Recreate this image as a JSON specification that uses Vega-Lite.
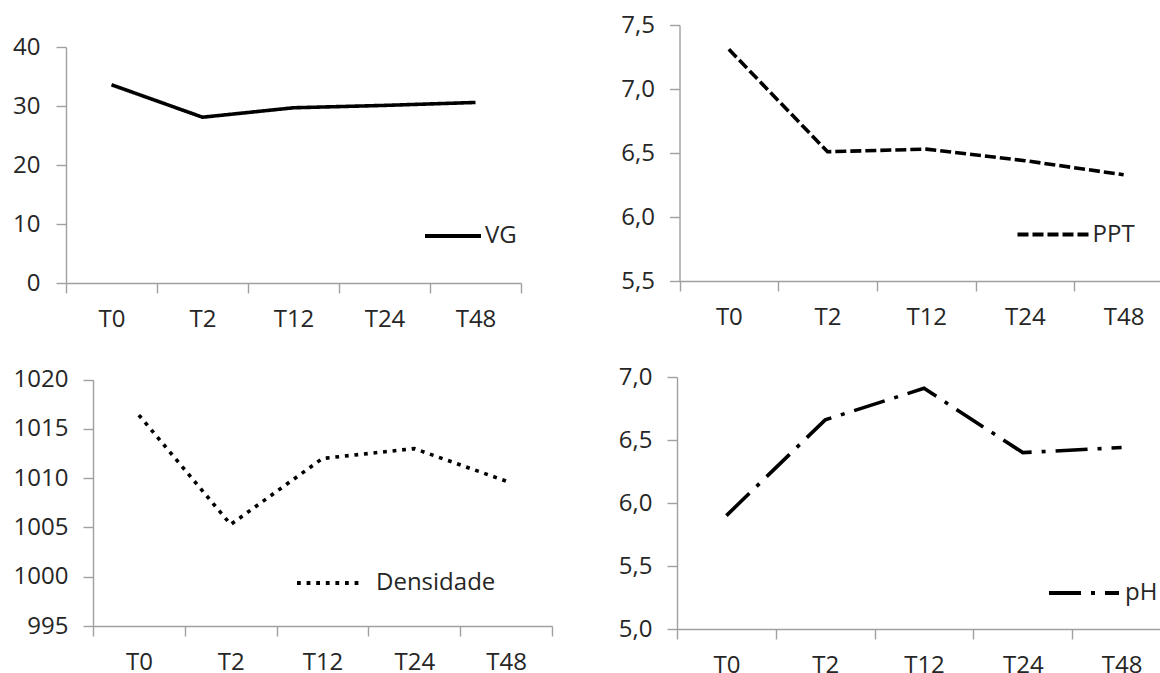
{
  "$schema": "https://vega.github.io/schema/vega-lite/v6.json",
  "padding": {"top": 13, "left": 12, "right": 0, "bottom": 0},
  "background": "white",
  "columns": 2,
  "align": "each",
  "spacing": {"row": 34, "column": 65},
  "resolve": {"scale": {"strokeDash": "independent"}, "legend": {"strokeDash": "independent"}},
  "concat": [
    {
      "width": 455,
      "height": 258,
      "data": {"values": [
        {"t": "T0", "serie": "VG", "v": 33.6},
        {"t": "T2", "serie": "VG", "v": 28.1},
        {"t": "T12", "serie": "VG", "v": 29.7},
        {"t": "T24", "serie": "VG", "v": 30.1},
        {"t": "T48", "serie": "VG", "v": 30.6}
      ]},
      "mark": {"type": "line", "color": "black", "strokeWidth": 3.6},
      "encoding": {
        "x": {"field": "t", "type": "ordinal", "sort": ["T0", "T2", "T12", "T24", "T48"], "title": null,
              "scale": {"type": "band", "paddingInner": 0, "paddingOuter": 0}},
        "y": {"field": "v", "type": "quantitative", "title": null,
              "scale": {"domain": [0, 40], "nice": false, "range": [258, 22]},
              "axis": {"values": [0, 10, 20, 30, 40], "labelPadding": 16}},
        "strokeDash": {"field": "serie", "type": "nominal", "scale": {"range": [[1, 0]]},
          "legend": {"orient": "none", "legendX": 357, "legendY": 181, "title": null, "symbolType": "stroke",
                     "symbolSize": 3136, "symbolStrokeWidth": 4, "symbolStrokeColor": "black",
                     "labelOffset": 2, "padding": 0}}
      }
    },
    {
      "width": 496,
      "height": 256,
      "data": {"values": [
        {"t": "T0", "serie": "PPT", "v": 7.31},
        {"t": "T2", "serie": "PPT", "v": 6.51},
        {"t": "T12", "serie": "PPT", "v": 6.53},
        {"t": "T24", "serie": "PPT", "v": 6.44},
        {"t": "T48", "serie": "PPT", "v": 6.33}
      ]},
      "mark": {"type": "line", "color": "black", "strokeWidth": 3.6},
      "encoding": {
        "x": {"field": "t", "type": "ordinal", "sort": ["T0", "T2", "T12", "T24", "T48"], "title": null,
              "scale": {"type": "band", "paddingInner": 0, "paddingOuter": 0, "range": [2.5, 496]}},
        "y": {"field": "v", "type": "quantitative", "title": null,
              "scale": {"domain": [5.5, 7.5], "nice": false, "zero": false},
              "axis": {"values": [5.5, 6, 6.5, 7, 7.5], "offset": -2.5, "labelExpr": "replace(format(datum.value, '.1f'), '.', ',')"}},
        "strokeDash": {"field": "serie", "type": "nominal", "scale": {"range": [[11, 4]]},
          "legend": {"orient": "none", "legendX": 338.5, "legendY": 172, "title": null, "symbolType": "stroke",
                     "symbolSize": 5041, "symbolStrokeWidth": 4, "symbolStrokeColor": "black",
                     "labelOffset": 2, "padding": 0}}
      }
    },
    {
      "width": 486,
      "height": 249,
      "data": {"values": [
        {"t": "T0", "serie": "Densidade", "v": 1016.4},
        {"t": "T2", "serie": "Densidade", "v": 1005.3},
        {"t": "T12", "serie": "Densidade", "v": 1012.0},
        {"t": "T24", "serie": "Densidade", "v": 1013.0},
        {"t": "T48", "serie": "Densidade", "v": 1009.7}
      ]},
      "mark": {"type": "line", "color": "black", "strokeWidth": 3.6},
      "encoding": {
        "x": {"field": "t", "type": "ordinal", "sort": ["T0", "T2", "T12", "T24", "T48"], "title": null,
              "scale": {"type": "band", "paddingInner": 0, "paddingOuter": 0, "range": [27, 486]}},
        "y": {"field": "v", "type": "quantitative", "title": null,
              "scale": {"domain": [995, 1020], "nice": false, "zero": false, "range": [249, 2.6]},
              "axis": {"values": [995, 1000, 1005, 1010, 1015, 1020], "format": "d", "offset": -27}},
        "strokeDash": {"field": "serie", "type": "nominal", "scale": {"range": [[3.8, 5.8]]},
          "legend": {"orient": "none", "legendX": 229, "legendY": 170.6, "title": null, "symbolType": "stroke",
                     "symbolSize": 4489, "symbolStrokeWidth": 4, "symbolStrokeColor": "black",
                     "labelOffset": 10, "padding": 0}}
      }
    },
    {
      "width": 494,
      "height": 252,
      "data": {"values": [
        {"t": "T0", "serie": "pH", "v": 5.90},
        {"t": "T2", "serie": "pH", "v": 6.66},
        {"t": "T12", "serie": "pH", "v": 6.91},
        {"t": "T24", "serie": "pH", "v": 6.40},
        {"t": "T48", "serie": "pH", "v": 6.44}
      ]},
      "mark": {"type": "line", "color": "black", "strokeWidth": 3.6},
      "encoding": {
        "x": {"field": "t", "type": "ordinal", "sort": ["T0", "T2", "T12", "T24", "T48"], "title": null,
              "scale": {"type": "band", "paddingInner": 0, "paddingOuter": 0}},
        "y": {"field": "v", "type": "quantitative", "title": null,
              "scale": {"domain": [5, 7], "nice": false, "zero": false},
              "axis": {"values": [5, 5.5, 6, 6.5, 7], "labelExpr": "replace(format(datum.value, '.1f'), '.', ',')"}},
        "strokeDash": {"field": "serie", "type": "nominal", "scale": {"range": [[32, 10, 4, 10]]},
          "legend": {"orient": "none", "legendX": 370, "legendY": 179, "title": null, "symbolType": "stroke",
                     "symbolSize": 4900, "symbolStrokeWidth": 4, "symbolStrokeColor": "black",
                     "labelOffset": 4, "padding": 0}}
      }
    }
  ],
  "config": {
    "view": {"stroke": null},
    "axis": {
      "domainColor": "#a0a0a0", "tickColor": "#a0a0a0", "domainWidth": 1.4, "tickWidth": 1.4, "tickSize": 10,
      "labelFont": "Open Sans", "labelFontSize": 24, "labelColor": "#262626", "grid": false
    },
    "axisX": {"labelAngle": 0, "labelPadding": 14, "tickBand": "extent"},
    "axisY": {"labelPadding": 15},
    "legend": {"labelFont": "Open Sans", "labelFontSize": 24, "labelColor": "#262626"}
  }
}
